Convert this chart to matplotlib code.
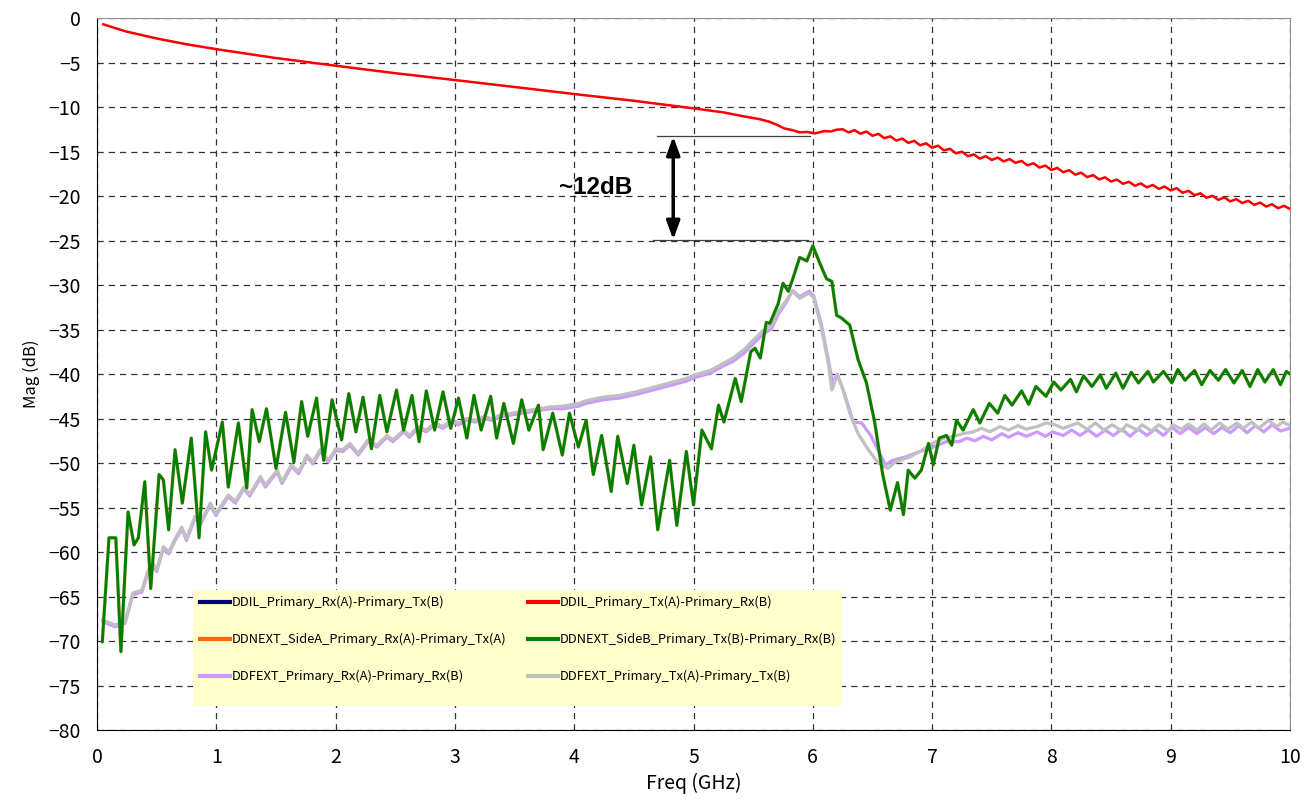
import matplotlib
matplotlib.use("Agg")
import matplotlib.pyplot as plt
from matplotlib.lines import Line2D
from matplotlib.patches import Rectangle

plt.rcParams['font.family'] = ['Noto Sans CJK JP', 'DejaVu Sans']

# DDIL (Tx(A)-Rx(B))  -- Rx(A)-Tx(B) lies under it
red_f = [0.05, 0.24, 0.5, 0.75, 1.0, 1.5, 2.0, 2.5, 3.0, 3.5, 4.0, 4.5, 5.0, 5.25,
         5.44, 5.55, 5.635, 5.7, 5.76, 5.83, 5.89, 5.95, 6.02, 6.1, 6.15, 6.2,
         6.25, 6.30, 6.35, 6.40, 6.45, 6.50, 6.55, 6.60, 6.65, 6.70, 6.75, 6.80,
         6.85, 6.90, 6.95, 7.00, 7.05, 7.10, 7.15, 7.20, 7.25, 7.30, 7.35, 7.40,
         7.45, 7.50, 7.55, 7.60, 7.65, 7.70, 7.75, 7.80, 7.85, 7.90, 7.95, 8.00,
         8.05, 8.10, 8.15, 8.20, 8.25, 8.30, 8.35, 8.40, 8.45, 8.50, 8.55, 8.60,
         8.65, 8.70, 8.75, 8.80, 8.85, 8.90, 8.95, 9.00, 9.05, 9.10, 9.15, 9.20,
         9.25, 9.30, 9.35, 9.40, 9.45, 9.50, 9.55, 9.60, 9.65, 9.70, 9.75, 9.80,
         9.85, 9.90, 9.95, 10.0]
red_db = [-0.7, -1.5, -2.3, -2.95, -3.5, -4.5, -5.36, -6.2, -6.97, -7.75, -8.54, -9.3,
          -10.15, -10.6, -11.1, -11.35, -11.65, -12.0, -12.4, -12.6, -12.85, -12.8,
          -12.96, -12.7, -12.75, -12.55,
          -12.5, -12.85, -12.6, -13.0, -12.75, -13.23, -13.02, -13.5, -13.3, -13.77,
          -13.55, -14.03, -13.8, -14.3, -14.08, -14.57, -14.35, -14.87, -14.7, -15.2,
          -15.02, -15.53, -15.32, -15.8, -15.52, -15.95, -15.68, -16.11, -15.85, -16.27,
          -16.06, -16.55, -16.32, -16.8, -16.58, -17.07, -16.85, -17.33, -17.1, -17.6,
          -17.38, -17.87, -17.65, -18.13, -17.9, -18.37, -18.15, -18.63, -18.4, -18.85,
          -18.58, -19.03, -18.76, -19.2, -18.94, -19.37, -19.12, -19.63, -19.42, -19.91,
          -19.7, -20.19, -19.98, -20.43, -20.16, -20.6, -20.35, -20.79, -20.54, -20.99,
          -20.74, -21.18, -20.92, -21.37, -21.1, -21.45]

# DDNEXT SideB (SideA lies under it)
green_f = [0.044, 0.10, 0.157, 0.20, 0.26, 0.31, 0.346, 0.40, 0.45, 0.52, 0.556, 0.60,
           0.654, 0.715, 0.79, 0.855, 0.91, 0.96, 1.05, 1.10, 1.185, 1.255, 1.30, 1.36,
           1.42, 1.50, 1.58, 1.65, 1.715, 1.766, 1.84, 1.90, 1.97, 2.05, 2.11, 2.17,
           2.23, 2.30, 2.37, 2.43, 2.51, 2.57, 2.64, 2.70, 2.76, 2.83, 2.90, 2.965,
           3.03, 3.10, 3.16, 3.22, 3.30, 3.35, 3.41, 3.49, 3.56, 3.62, 3.70, 3.74,
           3.82, 3.90, 3.96, 4.035, 4.10, 4.16, 4.23, 4.31, 4.365, 4.445, 4.50, 4.565,
           4.64, 4.70, 4.80, 4.86, 4.94, 5.00, 5.07, 5.15, 5.21, 5.255, 5.35, 5.40,
           5.48, 5.515, 5.56, 5.61, 5.64, 5.71, 5.75, 5.795, 5.83, 5.89, 5.95, 6.00,
           6.07, 6.115, 6.16, 6.20, 6.24, 6.31, 6.38, 6.45, 6.52, 6.585, 6.65, 6.71,
           6.76, 6.80, 6.855, 6.91, 6.97, 7.01, 7.06, 7.12, 7.165, 7.205, 7.26, 7.345,
           7.40, 7.48, 7.55, 7.61, 7.67, 7.75, 7.81, 7.87, 7.955, 8.02, 8.08, 8.16,
           8.21, 8.27, 8.34, 8.41, 8.46, 8.54, 8.60, 8.67, 8.73, 8.81, 8.855, 8.94,
           9.01, 9.06, 9.12, 9.20, 9.26, 9.33, 9.40, 9.46, 9.53, 9.60, 9.665, 9.73,
           9.79, 9.86, 9.92, 9.97, 10.0]
green_db = [-70.1, -58.4, -58.4, -71.2, -55.5, -59.2, -58.4, -52.1, -64.1, -51.3, -51.9, -57.5,
            -48.5, -54.5, -47.2, -58.4, -46.5, -50.8, -45.4, -52.7, -45.5, -52.8, -44.0, -47.6,
            -43.9, -50.6, -44.3, -49.9, -43.1, -47.0, -42.7, -49.7, -42.9, -47.4, -42.2, -46.5,
            -42.6, -48.4, -42.4, -46.5, -41.8, -46.3, -42.4, -47.6, -41.9, -46.3, -42.0, -46.1,
            -42.7, -47.2, -42.4, -46.3, -42.5, -47.2, -43.3, -47.8, -42.9, -46.3, -43.5, -48.5,
            -44.4, -49.1, -44.4, -48.2, -45.2, -51.3, -46.9, -53.2, -47.0, -52.3, -48.0, -54.7,
            -49.3, -57.5, -49.7, -57.0, -48.7, -54.7, -46.3, -48.4, -43.5, -45.4, -40.5, -43.1,
            -37.5, -37.1, -38.2, -34.2, -34.3, -32.1, -29.8, -30.7, -29.4, -26.9, -27.3, -25.6,
            -27.9, -29.3, -29.6, -33.4, -33.7, -34.5, -38.4, -41.0, -45.5, -51.2, -55.3, -52.2,
            -55.8, -50.8, -51.7, -50.8, -47.8, -50.2, -47.2, -46.9, -48.0, -45.2, -46.3, -44.0,
            -45.5, -43.3, -44.4, -42.4, -43.5, -41.9, -43.4, -41.4, -42.5, -40.9, -41.8, -40.6,
            -42.0, -40.2, -41.4, -40.1, -41.6, -39.9, -41.6, -39.8, -41.0, -39.7, -40.9, -39.7,
            -41.0, -39.5, -40.7, -39.6, -41.2, -39.6, -40.7, -39.5, -41.0, -39.6, -41.4, -39.5,
            -40.9, -39.5, -41.2, -39.7, -40.0]

# DDFEXT Tx(A)-Tx(B)
gray_f = [0.044, 0.15, 0.235, 0.30, 0.375, 0.43, 0.47, 0.50, 0.556, 0.60, 0.654, 0.71,
          0.75, 0.82, 0.87, 0.95, 0.995, 1.10, 1.16, 1.23, 1.28, 1.37, 1.41, 1.51,
          1.55, 1.63, 1.69, 1.76, 1.81, 1.87, 1.94, 2.00, 2.06, 2.12, 2.19, 2.27,
          2.345, 2.43, 2.48, 2.57, 2.62, 2.69, 2.76, 2.83, 2.90, 2.97, 3.03, 3.10,
          3.17, 3.24, 3.31, 3.38, 3.52, 3.66, 3.80, 3.91, 4.04, 4.10, 4.24, 4.38,
          4.52, 4.66, 4.80, 4.94, 5.01, 5.14, 5.25, 5.33, 5.42, 5.50, 5.585, 5.655,
          5.71, 5.78, 5.83, 5.89, 5.97, 6.01, 6.07, 6.13, 6.16, 6.205, 6.255, 6.31,
          6.38, 6.465, 6.55, 6.63, 6.69, 6.815, 6.90, 7.00, 7.10, 7.18, 7.26, 7.345,
          7.415, 7.485, 7.57, 7.64, 7.72, 7.79, 7.88, 7.955, 8.01, 8.10, 8.22, 8.30,
          8.37, 8.44, 8.51, 8.59, 8.63, 8.72, 8.76, 8.84, 8.90, 8.98, 9.02, 9.09,
          9.15, 9.22, 9.28, 9.34, 9.41, 9.48, 9.555, 9.61, 9.68, 9.74, 9.82, 9.89,
          9.94, 10.0]
gray_db = [-67.6, -68.2, -67.8, -64.6, -64.3, -62.0, -61.3, -62.0, -59.4, -60.0, -58.5, -57.2,
           -58.5, -56.0, -56.6, -54.5, -55.7, -53.6, -54.3, -52.7, -53.5, -51.5, -52.5, -50.8,
           -52.1, -50.2, -51.0, -49.1, -49.9, -48.5, -49.7, -48.4, -48.5, -47.8, -48.9, -47.4,
           -48.0, -46.9, -47.4, -46.3, -46.9, -45.9, -46.3, -45.5, -45.9, -45.2, -45.5, -45.0,
           -45.2, -44.8, -45.0, -44.6, -44.3, -44.0, -43.7, -43.6, -43.3, -43.0, -42.6, -42.4,
           -42.0, -41.5, -41.0, -40.5, -40.1, -39.6, -38.8, -38.2, -37.3, -36.2, -35.1, -34.5,
           -33.0, -31.7, -30.7, -31.5, -30.9, -31.5, -34.7, -38.8, -41.8, -40.1, -41.8, -44.4,
           -46.7, -48.5, -50.0, -50.6, -49.9, -49.3, -48.7, -47.8, -47.2, -47.0, -46.7, -46.5,
           -46.1, -46.5, -45.9, -46.3, -45.8, -46.2, -45.9, -45.5, -45.6, -46.1, -45.5, -46.2,
           -45.5, -46.3, -45.7, -46.4, -45.7, -46.3, -45.7, -46.4, -45.7, -46.4, -45.7, -46.2,
           -45.6, -46.3, -45.6, -46.3, -45.5, -46.2, -45.5, -46.1, -45.4, -46.1, -45.2, -45.9,
           -45.4, -45.8]

# DDFEXT Rx(A)-Rx(B)
purple_f = [0.044, 0.15, 0.235, 0.30, 0.375, 0.43, 0.47, 0.50, 0.556, 0.60, 0.654, 0.71,
            0.75, 0.82, 0.87, 0.95, 0.995, 1.10, 1.16, 1.23, 1.28, 1.37, 1.41, 1.51,
            1.55, 1.63, 1.69, 1.76, 1.81, 1.87, 1.94, 2.00, 2.06, 2.12, 2.19, 2.27,
            2.345, 2.43, 2.48, 2.57, 2.62, 2.69, 2.76, 2.83, 2.90, 2.97, 3.03, 3.10,
            3.17, 3.24, 3.31, 3.38, 3.52, 3.66, 3.80, 3.91, 4.04, 4.10, 4.24, 4.38,
            4.52, 4.66, 4.80, 4.94, 5.01, 5.14, 5.25, 5.33, 5.42, 5.50, 5.585, 5.655,
            5.71, 5.78, 5.83, 5.89, 5.97, 6.01, 6.07, 6.13, 6.165, 6.205, 6.255, 6.34,
            6.41, 6.49, 6.56, 6.61, 6.67, 6.78, 6.90, 7.01, 7.12, 7.23, 7.29, 7.36,
            7.43, 7.50, 7.585, 7.64, 7.72, 7.79, 7.88, 7.95, 8.01, 8.10, 8.17, 8.24,
            8.31, 8.38, 8.45, 8.52, 8.59, 8.66, 8.73, 8.80, 8.87, 8.94, 9.01, 9.08,
            9.15, 9.22, 9.29, 9.36, 9.43, 9.50, 9.57, 9.64, 9.71, 9.78, 9.85, 9.92,
            10.0]
purple_db = [-67.8, -68.4, -68.0, -64.8, -64.5, -62.2, -61.5, -62.2, -59.6, -60.2, -58.7, -57.4,
             -58.7, -56.2, -56.8, -54.7, -55.9, -53.8, -54.5, -52.9, -53.7, -51.7, -52.7, -51.0,
             -52.3, -50.4, -51.2, -49.3, -50.1, -48.7, -49.9, -48.6, -48.7, -48.0, -49.1, -47.6,
             -48.2, -47.1, -47.6, -46.5, -47.1, -46.1, -46.5, -45.7, -46.1, -45.4, -45.7, -45.2,
             -45.4, -45.0, -45.2, -44.8, -44.5, -44.2, -43.9, -43.9, -43.6, -43.3, -42.9, -42.7,
             -42.3, -41.8, -41.3, -40.8, -40.4, -39.9, -39.1, -38.6, -37.7, -36.6, -35.5, -34.9,
             -33.3, -31.9, -30.6, -31.3, -30.7, -31.3, -34.3, -38.4, -41.0, -40.0, -41.8, -45.4,
             -45.5, -47.0, -48.9, -50.2, -49.7, -49.3, -48.7, -48.2, -47.6, -47.6, -47.2, -47.5,
             -47.0, -47.4, -46.7, -47.1, -46.6, -47.0, -46.5, -47.0, -46.5, -46.9, -46.3, -46.9,
             -46.3, -47.0, -46.3, -46.9, -46.2, -47.0, -46.2, -46.9, -46.2, -46.9, -46.0, -46.7,
             -46.0, -46.7, -46.0, -46.7, -46.0, -46.6, -45.8, -46.6, -45.8, -46.5, -45.7, -46.4,
             -46.1]

labels = ['DDIL_Primary_Rx(A)-Primary_Tx(B)',
          'DDIL_Primary_Tx(A)-Primary_Rx(B)',
          'DDNEXT_SideA_Primary_Rx(A)-Primary_Tx(A)',
          'DDNEXT_SideB_Primary_Tx(B)-Primary_Rx(B)',
          'DDFEXT_Primary_Rx(A)-Primary_Rx(B)',
          'DDFEXT_Primary_Tx(A)-Primary_Tx(B)']
colors = ['#000080', '#FF0000', '#FF6600', '#008000', '#CC99FF', '#C0C0C0']

x_ticks = list(range(0, 11))
y_ticks = list(range(-80, 1, 5))

fig, ax = plt.subplots(figsize=(13.08, 8.08), dpi=100)
fig.subplots_adjust(left=0.0742, right=0.9862, bottom=0.0965, top=0.9777)

kw = dict(solid_joinstyle='round', solid_capstyle='round')
ax.plot(purple_f, purple_db, color=colors[4], lw=2.3, zorder=3, **kw)
ax.plot(gray_f, gray_db, color=colors[5], lw=2.3, zorder=4, **kw)
ax.plot(red_f, red_db, color=colors[0], lw=0.8, zorder=5, **kw)
ax.plot(red_f, red_db, color=colors[1], lw=1.8, zorder=6, **kw)
ax.plot(green_f, green_db, color=colors[2], lw=2.6, alpha=0.4, zorder=5, **kw)
ax.plot(green_f, green_db, color=colors[3], lw=2.1, zorder=6, **kw)

ax.set_xlim(0, 10)
ax.set_ylim(-80, 0)
ax.set_xticks(x_ticks)
ax.set_yticks(y_ticks)
ax.tick_params(length=0, labelsize=14, pad=12)
ax.grid(True, color='black', linestyle=(0, (5, 4)), linewidth=0.9, alpha=0.8)
ax.set_axisbelow(True)
for side in ['top', 'right']:
    ax.spines[side].set_color('#909090')
for side in ['left', 'bottom']:
    ax.spines[side].set_color('black')
ax.set_xlabel('Freq (GHz)', fontsize=14, labelpad=4)
ax.set_ylabel('Mag (dB)', fontsize=12, labelpad=6)

# ~12dB annotation
ax.plot([4.69, 5.98], [-13.3, -13.3], color='#404040', lw=0.9, zorder=7)
ax.plot([4.66, 5.96], [-24.9, -24.9], color='#404040', lw=0.9, zorder=7)
ax.annotate('', xy=(4.83, -13.3), xytext=(4.83, -24.9),
            arrowprops=dict(arrowstyle='<|-|>,head_length=1.1,head_width=0.4',
                            color='black', lw=2.5, shrinkA=0, shrinkB=0), zorder=8)
ax.text(4.18, -19.0, '~12dB', fontsize=17.5, fontweight='bold',
        family=['Liberation Sans', 'DejaVu Sans'], ha='center', va='center', zorder=8)

# legend background box, then the legend itself without frame
ax.add_patch(Rectangle((0.0805, 0.0337), 0.544, 0.1629, transform=ax.transAxes,
                       facecolor='#FFFFCC', edgecolor='none', zorder=9))
order = [0, 2, 4, 1, 3, 5]
handles = [Line2D([], [], color=colors[i], lw=3) for i in order]
leg = ax.legend(handles, [labels[i] for i in order], ncol=2, loc='upper left',
                bbox_to_anchor=(0.0863, 0.1885), fontsize=9.3, frameon=False,
                handlelength=2.3, handletextpad=0.15, labelspacing=1.85,
                columnspacing=1.7, borderpad=0, borderaxespad=0)
leg.set_zorder(10)

fig.savefig('out.png', dpi=100)
